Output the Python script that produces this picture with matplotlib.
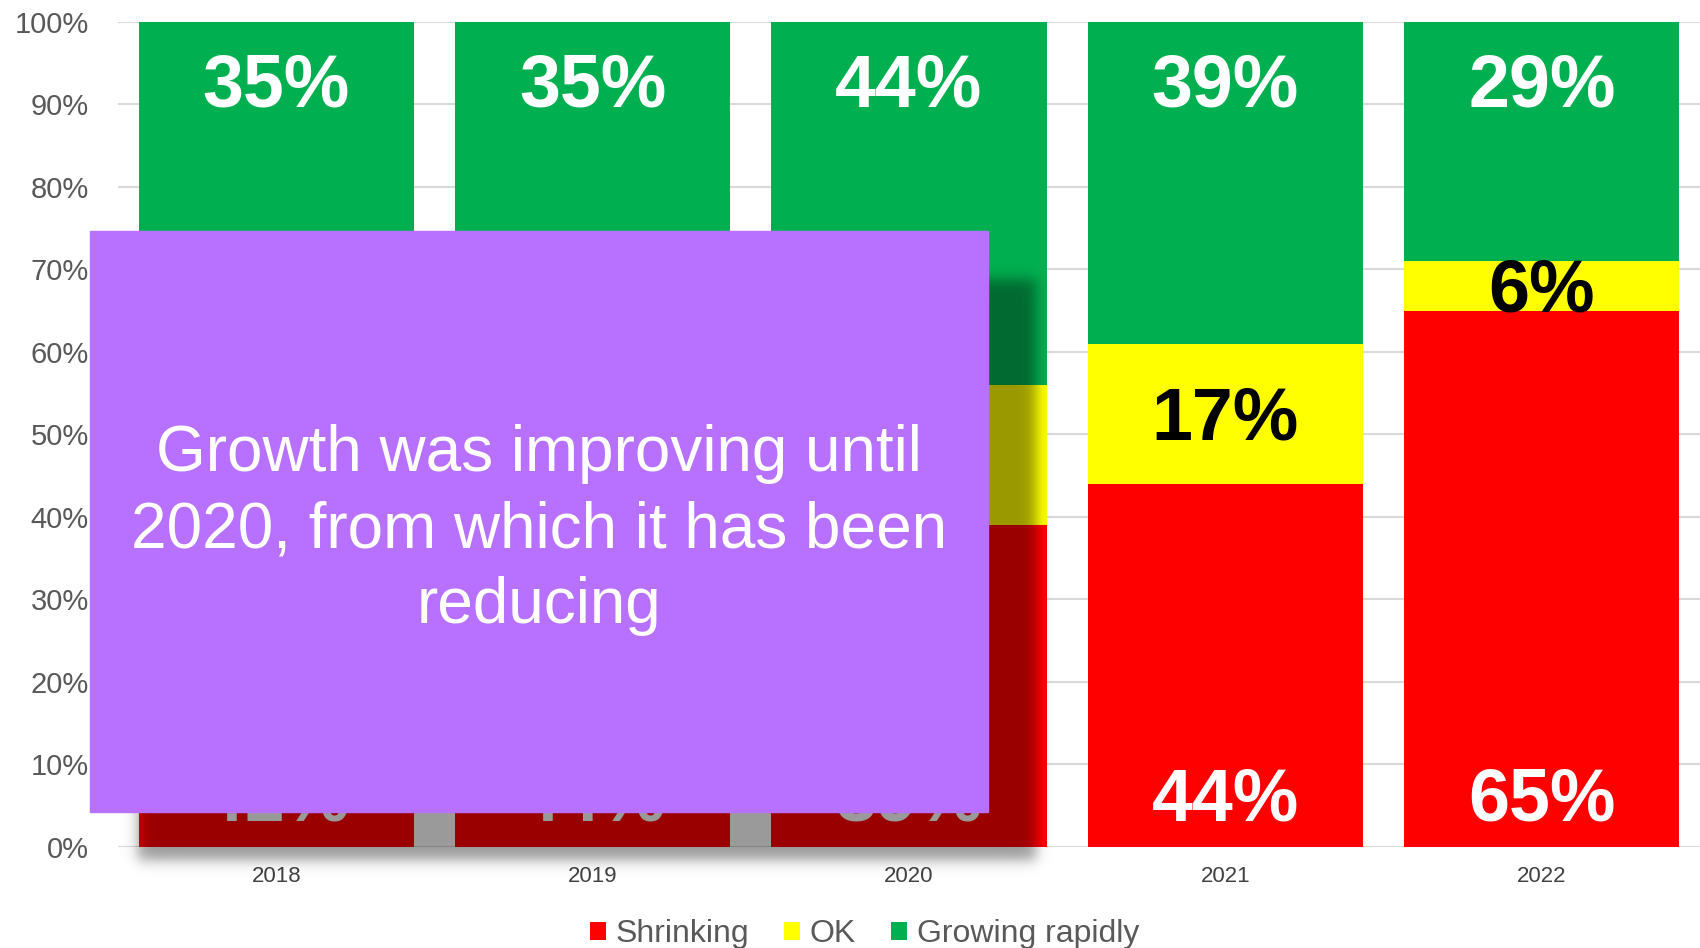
import numpy as np
import matplotlib.pyplot as plt
from matplotlib.patches import Rectangle

plt.rcParams['font.family'] = ['Liberation Sans', 'DejaVu Sans']

years = ['2018', '2019', '2020', '2021', '2022']
shrinking = [41, 44, 39, 44, 65]
ok = [24, 21, 17, 17, 6]
growing = [35, 35, 44, 39, 29]

series = [('Shrinking', shrinking, '#FF0000', 'white'),
          ('OK', ok, '#FFFF00', 'black'),
          ('Growing rapidly', growing, '#00B050', 'white')]

W, H = 1700, 948
fig = plt.figure(figsize=(W / 100, H / 100), dpi=100)
ax = fig.add_axes([118 / W, (H - 847) / H, 1 - 118 / W, (847 - 21.7) / H])

x = np.arange(len(years))
bottom = np.zeros(len(years))
handles = []
for i, (name, vals, col, txtcol) in enumerate(series):
    vals = np.array(vals, dtype=float)
    b = ax.bar(x, vals, 0.87, bottom=bottom, color=col, label=name, zorder=2)
    handles.append(b)
    for xi, v, b0 in zip(x, vals, bottom):
        if i == 0:
            y = b0 + 5.6
        elif i == 2:
            y = b0 + v - 7.9
        else:
            y = b0 + v / 2 - 0.8
        ax.text(xi, y, f'{int(v)}%', ha='center', va='center', fontsize=53,
                fontweight='bold', color=txtcol, zorder=3)
    bottom += vals

ax.set_xlim(-0.5, 4.5)
ax.set_ylim(0, 100)
ax.set_yticks(np.arange(0, 101, 10))
ax.set_yticklabels([f'{t}%' for t in range(0, 101, 10)])
ax.set_xticks(x)
ax.set_xticklabels(years)
ax.tick_params(axis='y', length=0, pad=21, labelsize=21, labelcolor='#595959')
ax.tick_params(axis='x', length=0, pad=14, labelsize=16, labelcolor='#404040')
ax.grid(axis='y', color='#D9D9D9', lw=1.5, zorder=0)
ax.set_axisbelow(True)
for s in ax.spines.values():
    s.set_visible(False)

fig.legend(handles=handles, loc='center', bbox_to_anchor=(0.5086, (H - 934) / H),
           ncol=3, frameon=False, fontsize=23, labelcolor='#595959',
           handlelength=0.5, handleheight=0.5, handletextpad=0.3, columnspacing=1.1)

# callout box with soft shadow
ov = fig.add_axes([0, 0, 1, 1], zorder=5)
ov.axis('off')

px = np.arange(W) + 0.5
py = np.arange(H) + 0.5
s = 4.0
sx = 1 / (1 + np.exp(-(px - 138) / s)) * 1 / (1 + np.exp((px - 1036) / s))
sy = 1 / (1 + np.exp(-(py - 279) / s)) * 1 / (1 + np.exp((py - 860) / s))
shadow = np.zeros((H, W, 4))
shadow[..., 3] = 0.4 * np.outer(sy, sx)
ov.imshow(shadow, extent=(0, W, H, 0), interpolation='bilinear', zorder=1)
ov.set_xlim(0, W)
ov.set_ylim(H, 0)

ov.add_patch(Rectangle((90, 231), 898, 581, color='#B870FF', zorder=2))
ov.text(539, 530, 'Growth was improving until\n2020, from which it has been\nreducing',
        ha='center', va='center', fontsize=46, color='white', linespacing=1.34, zorder=3)

fig.savefig('out.png', dpi=100)
